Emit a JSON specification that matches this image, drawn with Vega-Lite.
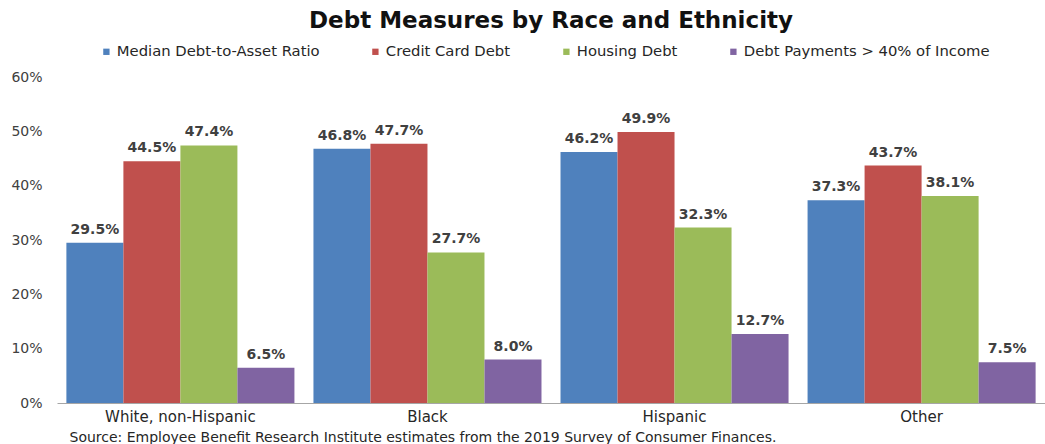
{
  "$schema": "https://vega.github.io/schema/vega-lite/v6.json",
  "autosize": "none",
  "width": 988,
  "height": 326,
  "padding": {"left": 57, "top": 77, "right": 0, "bottom": 41},
  "background": "white",
  "title": {
    "text": "Debt Measures by Race and Ethnicity",
    "font": "DejaVu Sans",
    "fontSize": 23,
    "fontWeight": "bold",
    "color": "#111111",
    "anchor": "middle",
    "offset": 11
  },
  "config": {
    "view": {"stroke": null},
    "font": "DejaVu Sans"
  },
  "data": {
    "values": [
      {"group": "White, non-Hispanic", "series": "Median Debt-to-Asset Ratio", "value": 0.295},
      {"group": "White, non-Hispanic", "series": "Credit Card Debt", "value": 0.445},
      {"group": "White, non-Hispanic", "series": "Housing Debt", "value": 0.474},
      {"group": "White, non-Hispanic", "series": "Debt Payments > 40% of Income", "value": 0.065},
      {"group": "Black", "series": "Median Debt-to-Asset Ratio", "value": 0.468},
      {"group": "Black", "series": "Credit Card Debt", "value": 0.477},
      {"group": "Black", "series": "Housing Debt", "value": 0.277},
      {"group": "Black", "series": "Debt Payments > 40% of Income", "value": 0.080},
      {"group": "Hispanic", "series": "Median Debt-to-Asset Ratio", "value": 0.462},
      {"group": "Hispanic", "series": "Credit Card Debt", "value": 0.499},
      {"group": "Hispanic", "series": "Housing Debt", "value": 0.323},
      {"group": "Hispanic", "series": "Debt Payments > 40% of Income", "value": 0.127},
      {"group": "Other", "series": "Median Debt-to-Asset Ratio", "value": 0.373},
      {"group": "Other", "series": "Credit Card Debt", "value": 0.437},
      {"group": "Other", "series": "Housing Debt", "value": 0.381},
      {"group": "Other", "series": "Debt Payments > 40% of Income", "value": 0.075}
    ]
  },
  "encoding": {
    "x": {
      "field": "group",
      "type": "nominal",
      "sort": ["White, non-Hispanic", "Black", "Hispanic", "Other"],
      "scale": {"paddingInner": 0.077, "paddingOuter": 0.038},
      "axis": {
        "title": "Source: Employee Benefit Research Institute estimates from the 2019 Survey of Consumer Finances.",
        "titleFont": "DejaVu Sans",
        "titleFontSize": 14,
        "titleFontWeight": "normal",
        "titleColor": "#262626",
        "titleAnchor": "start",
        "titleAlign": "left",
        "titleX": 12,
        "titlePadding": 6,
        "labelAngle": 0,
        "labelFont": "DejaVu Sans",
        "labelFontSize": 15,
        "labelColor": "#262626",
        "labelPadding": 6,
        "ticks": false,
        "domainColor": "#a6a6a6",
        "domainWidth": 1
      }
    },
    "xOffset": {
      "field": "series",
      "type": "nominal",
      "sort": ["Median Debt-to-Asset Ratio", "Credit Card Debt", "Housing Debt", "Debt Payments > 40% of Income"],
      "scale": {"paddingInner": 0, "paddingOuter": 0}
    },
    "y": {
      "field": "value",
      "type": "quantitative",
      "scale": {"domain": [0, 0.6], "nice": false},
      "axis": {
        "title": null,
        "format": ".0%",
        "values": [0, 0.1, 0.2, 0.3, 0.4, 0.5, 0.6],
        "grid": false,
        "domain": false,
        "ticks": false,
        "labelFont": "DejaVu Sans",
        "labelFontSize": 14,
        "labelColor": "#404040",
        "labelPadding": 15
      }
    }
  },
  "layer": [
    {
      "mark": {"type": "bar"},
      "encoding": {
        "color": {
          "field": "series",
          "type": "nominal",
          "sort": ["Median Debt-to-Asset Ratio", "Credit Card Debt", "Housing Debt", "Debt Payments > 40% of Income"],
          "scale": {
            "domain": ["Median Debt-to-Asset Ratio", "Credit Card Debt", "Housing Debt", "Debt Payments > 40% of Income"],
            "range": ["#4F81BD", "#C0504D", "#9BBB59", "#8064A2"]
          },
          "legend": {
            "title": null,
            "orient": "none",
            "legendX": 42,
            "legendY": -33,
            "direction": "horizontal",
            "columns": 4,
            "columnPadding": 48,
            "symbolType": "square",
            "symbolSize": 40,
            "symbolStrokeWidth": 0,
            "labelFont": "DejaVu Sans",
            "labelFontSize": 14.8,
            "labelColor": "#262626",
            "labelOffset": 3,
            "labelLimit": 400
          }
        }
      }
    },
    {
      "mark": {
        "type": "text",
        "baseline": "bottom",
        "dy": -6,
        "font": "DejaVu Sans",
        "fontSize": 14,
        "fontWeight": "bold",
        "color": "#404040"
      },
      "encoding": {
        "text": {"field": "value", "type": "quantitative", "format": ".1%"}
      }
    }
  ]
}
